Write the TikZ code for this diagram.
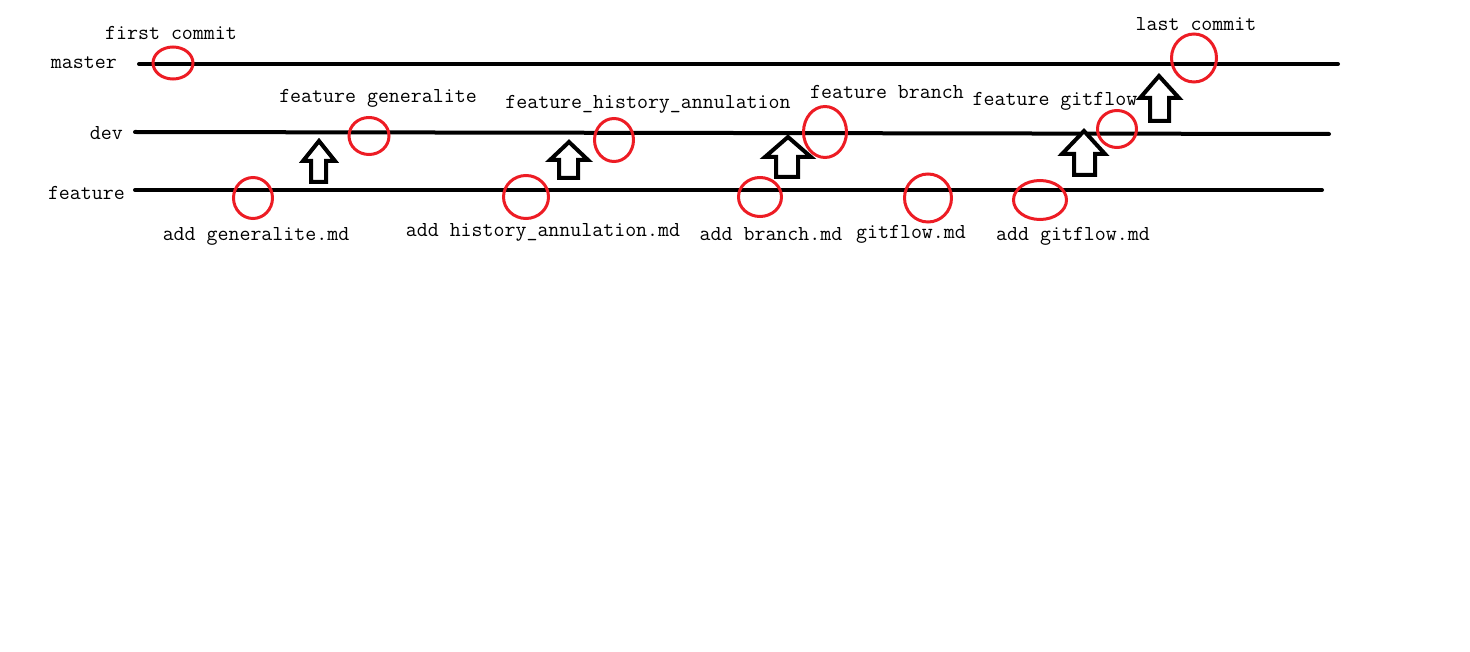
\documentclass[tikz,border=0pt]{standalone}
\usetikzlibrary{shapes.geometric}
\definecolor{paintred}{HTML}{ED1C24}
\tikzset{
  branch/.style={line width=4pt, line cap=round},
  commit/.style={draw=paintred, line width=3pt, ellipse, inner sep=0pt},
  lbl/.style={font=\ttfamily\fontsize{21.3}{23}\selectfont, inner sep=0pt},
  merge/.style={draw=black, line width=4pt, line join=miter, fill=white},
}
\begin{document}
\begin{tikzpicture}[x=1pt,y=-1pt]
\useasboundingbox (0,0) rectangle (1470,652);
% branch lines
\coordinate (m0) at (139,64); \coordinate (m1) at (1338,64);
\coordinate (d0) at (135,132); \coordinate (d1) at (1329,134);
\coordinate (f0) at (135,190); \coordinate (f1) at (1322,190);
\draw[branch] (m0) -- (m1);
\draw[branch] (d0) -- (d1);
\draw[branch] (f0) -- (f1);
% branch labels
\node[lbl, anchor=east] (lm) at (117,63) {master};
\node[lbl, anchor=east] (ld) at (123,133) {dev};
\node[lbl, anchor=east] (lf) at (125,193) {feature};
% commits
\node[commit, minimum width=40pt, minimum height=32pt] (c1) at (173,63) {};
\node[commit, minimum width=39pt, minimum height=41pt] (c2) at (253,198) {};
\node[commit, minimum width=40pt, minimum height=37pt] (c3) at (369,136) {};
\node[commit, minimum width=45pt, minimum height=43pt] (c4) at (526,197) {};
\node[commit, minimum width=39pt, minimum height=43pt] (c5) at (614,140) {};
\node[commit, minimum width=43pt, minimum height=39pt] (c6) at (760,197) {};
\node[commit, minimum width=43pt, minimum height=51pt] (c7) at (825,132) {};
\node[commit, minimum width=47pt, minimum height=48pt] (c8) at (928,198) {};
\node[commit, minimum width=53pt, minimum height=39pt] (c9) at (1040,200) {};
\node[commit, minimum width=39pt, minimum height=37pt] (c10) at (1117,129) {};
\node[commit, minimum width=45pt, minimum height=48pt] (c11) at (1194,58) {};
% labels
\node[lbl] (t1) at (171,33) {first commit};
\node[lbl] (t2) at (378,98) {feature generalite};
\node[lbl] (t3) at (648,104) {feature\_history\_annulation};
\node[lbl] (t4) at (887,92) {feature branch};
\node[lbl] (t5) at (1055,101) {feature gitflow};
\node[lbl] (t6) at (1196,24) {last commit};
\node[lbl] (b1) at (256,236) {add generalite.md};
\node[lbl] (b2) at (543,232) {add history\_annulation.md};
\node[lbl] (b3) at (771,234) {add branch.md};
\node[lbl] (b4) at (911,234) {gitflow.md};
\node[lbl] (b5) at (1073,236) {add gitflow.md};
% merge arrows (hollow block arrows)
\draw[merge] (319,141) -- (335,161) -- (326,161) -- (326,182) -- (311,182) -- (311,161) -- (303,161) -- cycle;
\draw[merge] (569,142) -- (588,160) -- (578,160) -- (578,178) -- (559,178) -- (559,160) -- (550,160) -- cycle;
\draw[merge] (788,137) -- (811,157) -- (798,157) -- (798,177) -- (776,177) -- (776,157) -- (765,157) -- cycle;
\draw[merge] (1084,131) -- (1105,154) -- (1095,154) -- (1095,175) -- (1074,175) -- (1074,154) -- (1062,154) -- cycle;
\draw[merge] (1159,76) -- (1179,98) -- (1169,98) -- (1169,121) -- (1150,121) -- (1150,98) -- (1140,98) -- cycle;
\end{tikzpicture}
\end{document}
